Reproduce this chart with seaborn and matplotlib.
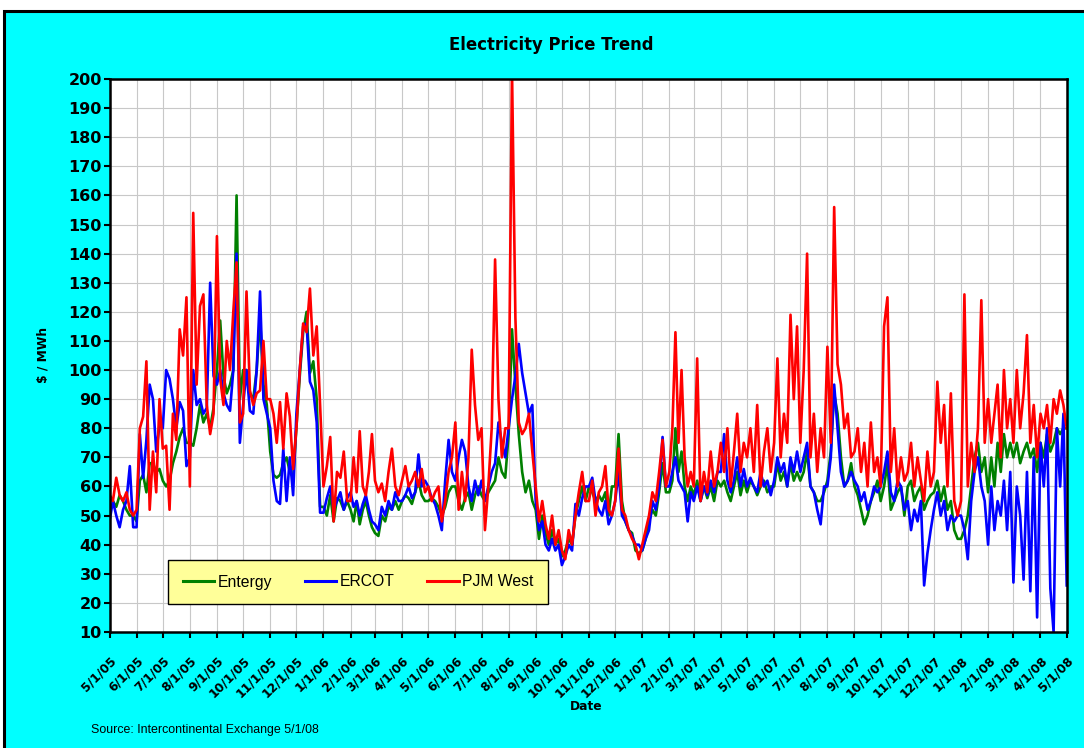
import numpy as np
import pandas as pd
import matplotlib
matplotlib.use("Agg")
import matplotlib.pyplot as plt
import seaborn as sns
from matplotlib.patches import Rectangle

# ---------------- data (8 readings per month, May-05 .. Apr-08, plus 5/1/08) -------------
series_names = ["Entergy", "ERCOT", "PJM West"]
series_colors = ["#008000", "#0000FF", "#FF0000"]

entergy = [
    57, 55, 53, 57, 55, 52, 50, 50,      # May-05
    48, 62, 64, 58, 68, 68, 65, 66,      # Jun-05
    62, 60, 62, 68, 72, 77, 80, 75,      # Jul-05
    75, 74, 80, 88, 82, 85, 80, 87,      # Aug-05
    100, 117, 98, 92, 95, 100, 160, 90,  # Sep-05
    100, 100, 92, 90, 100, 118, 95, 88,  # Oct-05
    72, 64, 63, 64, 68, 70, 65, 63,      # Nov-05
    80, 98, 113, 120, 99, 103, 90, 53,   # Dec-05
    53, 50, 57, 48, 56, 55, 52, 55,      # Jan-06
    52, 48, 55, 47, 52, 55, 50, 46,      # Feb-06
    44, 43, 50, 48, 53, 52, 55, 52,      # Mar-06
    55, 57, 56, 54, 58, 62, 57, 55,      # Apr-06
    55, 56, 55, 53, 50, 53, 58, 60,      # May-06
    60, 55, 52, 56, 58, 52, 57, 60,      # Jun-06
    57, 55, 58, 60, 62, 70, 65, 63,      # Jul-06
    78, 114, 95, 78, 65, 58, 62, 55,     # Aug-06
    52, 42, 50, 44, 40, 45, 40, 42,      # Sep-06
    36, 38, 42, 40, 50, 55, 60, 55,      # Oct-06
    60, 58, 55, 57, 55, 58, 50, 60,      # Nov-06
    60, 78, 55, 48, 45, 44, 38, 37,      # Dec-06
    38, 42, 48, 52, 50, 58, 68, 58,      # Jan-07
    58, 62, 80, 65, 72, 60, 55, 60,      # Feb-07
    57, 62, 55, 60, 56, 60, 55, 62,      # Mar-07
    60, 62, 58, 55, 60, 65, 57, 62,      # Apr-07
    58, 62, 60, 57, 60, 62, 58, 60,      # May-07
    60, 68, 62, 65, 60, 68, 62, 65,      # Jun-07
    62, 65, 72, 60, 58, 55, 55, 58,      # Jul-07
    62, 72, 92, 85, 70, 60, 62, 68,      # Aug-07
    60, 57, 52, 47, 50, 55, 58, 62,      # Sep-07
    55, 60, 68, 52, 55, 58, 60, 50,      # Oct-07
    60, 62, 55, 58, 60, 52, 55, 57,      # Nov-07
    58, 62, 55, 60, 52, 55, 45, 42,      # Dec-07
    42, 45, 50, 60, 70, 75, 65, 70,      # Jan-08
    58, 70, 60, 75, 65, 78, 70, 75,      # Feb-08
    70, 75, 68, 72, 75, 70, 73, 65,      # Mar-08
    75, 70, 78, 72, 75, 80, 78, 80,      # Apr-08
    80,                                  # 5/1/08
]

ercot = [
    48, 55, 50, 46, 52, 55, 67, 46,
    46, 78, 63, 76, 95, 90, 72, 81,
    80, 100, 97, 90, 80, 89, 86, 67,
    70, 100, 88, 90, 85, 87, 130, 98,
    95, 100, 92, 88, 86, 100, 140, 75,
    88, 100, 86, 85, 100, 127, 90, 85,
    80, 62, 55, 54, 73, 55, 70, 57,
    85, 100, 115, 116, 96, 93, 82, 51,
    51, 56, 60, 52, 55, 58, 52, 56,
    58, 53, 55, 50, 54, 57, 52, 48,
    47, 45, 53, 50, 55, 52, 58, 55,
    55, 57, 60, 56, 58, 71, 60, 62,
    60, 56, 54, 50, 45, 62, 76, 65,
    62, 70, 76, 72, 60, 55, 62, 57,
    62, 55, 60, 65, 68, 82, 75, 70,
    80, 90, 98, 109, 99, 92, 85, 88,
    55, 45, 48, 40, 38, 42, 38, 40,
    33, 36, 40, 38, 54, 50, 56, 60,
    60, 63, 55, 52, 50, 55, 47, 50,
    55, 65, 50, 48, 45, 43, 40, 40,
    38, 42, 45, 55, 52, 60, 77, 60,
    60, 65, 70, 62, 60, 58, 48, 58,
    55, 60, 55, 60, 57, 62, 58, 65,
    65, 78, 62, 58, 62, 70, 60, 66,
    60, 63, 60, 58, 65, 60, 62, 57,
    62, 70, 65, 68, 60, 70, 65, 72,
    65, 70, 75, 60, 58, 52, 47, 60,
    60, 70, 95, 80, 65, 60, 62, 65,
    62, 60, 55, 58, 52, 55, 60, 58,
    60, 65, 72, 58, 55, 62, 60, 52,
    55, 45, 52, 48, 55, 26, 37, 45,
    52, 58, 50, 55, 45, 50, 48, 50,
    50, 45, 35, 55, 65, 70, 60, 55,
    40, 60, 45, 55, 50, 62, 45, 65,
    27, 60, 50, 28, 65, 24, 70, 15,
    75, 60, 80, 25, 10, 80, 60, 85,
    26,
]

pjm_west = [
    57, 55, 63, 57, 55, 58, 52, 50,
    52, 80, 84, 103, 52, 72, 58, 90,
    73, 74, 52, 85, 76, 114, 105, 125,
    60, 154, 95, 122, 126, 88, 78, 85,
    146, 97, 88, 110, 100, 120, 137, 82,
    85, 127, 93, 88, 92, 93, 110, 90,
    90, 85, 75, 89, 73, 92, 84, 66,
    80, 100, 116, 113, 128, 105, 115, 88,
    60, 67, 77, 48, 65, 63, 72, 55,
    55, 70, 58, 79, 60, 57, 65, 78,
    62, 58, 61, 55, 65, 73, 60, 57,
    62, 67, 60, 62, 65, 60, 66, 58,
    60, 55, 58, 60, 48, 55, 65, 70,
    82, 52, 65, 55, 70, 107, 88, 76,
    80, 45, 60, 80, 138, 90, 70, 80,
    80, 203, 118, 82, 78, 80, 85, 72,
    60, 48, 55, 47, 42, 50, 40, 45,
    38, 35, 45, 40, 50, 58, 65, 55,
    55, 62, 50, 58, 60, 67, 52, 50,
    55, 73, 52, 50, 45, 42, 40, 35,
    40, 45, 50, 58, 55, 65, 76, 60,
    65, 80, 113, 75, 100, 70, 60, 65,
    60, 104, 55, 65, 58, 72, 60, 65,
    75, 65, 80, 60, 72, 85, 65, 75,
    70, 80, 65, 88, 60, 72, 80, 65,
    75, 104, 70, 85, 75, 119, 90, 115,
    75, 100, 140, 70, 85, 65, 80, 70,
    108, 75, 156, 102, 95, 80, 85, 70,
    72, 80, 65, 75, 60, 82, 65, 70,
    60, 115, 125, 65, 80, 60, 70, 62,
    65, 75, 60, 70, 62, 55, 72, 60,
    65, 96, 75, 88, 60, 92, 55, 50,
    55, 126, 60, 75, 65, 80, 124, 75,
    90, 75, 85, 95, 70, 100, 80, 90,
    75, 100, 80, 92, 112, 75, 88, 70,
    85, 80, 88, 75, 90, 85, 93, 88,
    80,
]

month_starts = pd.date_range("2005-05-01", "2008-05-01", freq="MS")
tick_labels = [f"{d.month}/{d.day}/{d.year % 100:02d}" for d in month_starts]
y_ticks = list(range(10, 201, 10))

# reading dates: 8 per month
dates = []
for a, b in zip(month_starts[:-1], month_starts[1:]):
    for i in range(8):
        dates.append(a + (b - a) * i / 8)
dates.append(month_starts[-1])

df = pd.DataFrame({
    "Date": dates * 3,
    "Price": entergy + ercot + pjm_west,
    "Series": [series_names[0]] * len(dates) + [series_names[1]] * len(dates) + [series_names[2]] * len(dates),
})

# ---------------- figure ----------------
plt.rcParams["font.family"] = ["DejaVu Sans"]
W, H = 1084, 748
fig = plt.figure(figsize=(W / 100, H / 100), dpi=100)
fig.patch.set_facecolor("white")
bg = Rectangle((4 / W, -0.05), 1.1, (H - 11) / H + 0.05, transform=fig.transFigure,
               facecolor="#00FFFF", edgecolor="black", linewidth=2.2, zorder=-10)
fig.patches.append(bg)

left, right, top, bottom = 109.5, 1066.7, 79, 632
ax = fig.add_axes([left / W, 1 - bottom / H, (right - left) / W, (bottom - top) / H])
ax.set_zorder(5)
ax.set_facecolor("white")

palette = dict(zip(series_names, series_colors))
sns.lineplot(data=df, x="Date", y="Price", hue="Series", hue_order=series_names,
             palette=palette, estimator=None, linewidth=1.9, ax=ax, legend=False)

ax.set_xlim(month_starts[0], month_starts[-1])
ax.set_ylim(10, 200)
ax.set_yticks(y_ticks)
ax.set_yticklabels([str(v) for v in y_ticks], fontsize=11.5, fontweight="bold")
ax.set_xticks(month_starts)
ax.set_xticklabels(tick_labels, rotation=45, ha="right", va="top",
                   rotation_mode="anchor", fontsize=8.8, fontweight="bold")
ax.set_xlabel("")
ax.set_ylabel("")
ax.grid(True, color="#C8C8C8", linewidth=0.8)
ax.set_axisbelow(True)
for s in ax.spines.values():
    s.set_linewidth(1.8)
    s.set_color("black")
ax.tick_params(axis="y", direction="out", length=4.5, width=1.5, pad=1, colors="black")
ax.tick_params(axis="x", direction="out", length=4, width=1.5, pad=12, colors="black")

# legend
handles = ax.get_lines()[:3]
leg = ax.legend(handles, series_names, loc="center", bbox_to_anchor=(358 / W, 1 - 582 / H),
                bbox_transform=fig.transFigure, ncol=3, frameon=True, fancybox=False,
                facecolor="#FFFF99", edgecolor="black", framealpha=1,
                prop={"family": "Liberation Sans", "size": 11.3},
                handlelength=2.0, handletextpad=0.2, columnspacing=2.1, borderpad=0.95)
leg.get_frame().set_linewidth(1.0)
for ln in leg.get_lines():
    ln.set_linewidth(2.2)

# texts
fig.text(551 / W, 1 - 45 / H, "Electricity Price Trend", ha="center", va="center",
         fontsize=11.9, fontweight="bold")
fig.text(43 / W, 1 - 355 / H, "$ / MWh", rotation=90, ha="center", va="center",
         fontsize=8.8, fontweight="bold")
fig.text(586 / W, 1 - 707 / H, "Date", ha="center", va="center",
         fontsize=8.8, fontweight="bold")
fig.text(91 / W, 1 - 730 / H, "Source: Intercontinental Exchange 5/1/08", ha="left", va="center",
         fontsize=8.9, family="Liberation Sans")

fig.savefig("out.png", dpi=100)
